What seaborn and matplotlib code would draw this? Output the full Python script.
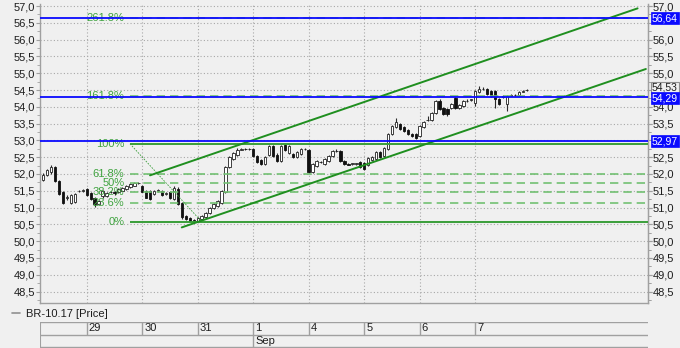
import numpy as np
import pandas as pd
import matplotlib
matplotlib.use("Agg")
import matplotlib.pyplot as plt
import matplotlib.transforms as mtransforms
from matplotlib.lines import Line2D
from matplotlib.ticker import MultipleLocator, FixedLocator, FuncFormatter
import seaborn as sns

# ---------------- data ----------------
day_labels = ["29", "30", "31", "1", "4", "5", "6", "7"]
month_label = "Sep"
month_starts_at = "1"
bars_per_day = 14
first_bar = -11          # hourly bars of the 28th shown before the 29th
price_ticks = [48.5, 49.0, 49.5, 50.0, 50.5, 51.0, 51.5, 52.0, 52.5, 53.0,
               53.5, 54.0, 54.5, 55.0, 55.5, 56.0, 56.5, 57.0]

opens = [51.82, 51.98, 52.05, 52.20, 51.80, 51.45, 51.28, 51.15, 51.18, 51.48, 51.50,
         51.55, 51.42, 51.30, 51.12, 51.34, 51.35, 51.45, 51.47, 51.45, 51.50, 51.55, 51.60, 51.65, 51.73,
         51.64, 51.50, 51.48, 51.40, 51.50, 51.50, 51.40, 51.45, 51.25, 51.55, 51.15, 50.75, 50.68, 50.62,
         50.60, 50.65, 50.72, 50.85, 51.00, 51.05, 51.15, 51.45, 52.20, 52.45, 52.58, 52.72, 52.74, 52.74,
         52.75, 52.55, 52.42, 52.30, 52.58, 52.82, 52.58, 52.40, 52.85, 52.62, 52.60, 52.50, 52.60, 52.74,
         52.70, 52.05, 52.25, 52.36, 52.30, 52.40, 52.55, 52.68, 52.68, 52.40, 52.30, 52.30, 52.30, 52.36,
         52.32, 52.28, 52.42, 52.45, 52.65, 52.55, 52.73, 53.18, 53.40, 53.48, 53.40, 53.32, 53.20, 53.18,
         53.13, 53.40, 53.60, 53.60, 53.83, 54.17, 53.97, 53.92, 53.97, 54.27, 53.97, 54.02, 54.17, 54.20,
         54.12, 54.45, 54.52, 54.52, 54.47, 54.47, 54.22, 54.28, 54.07, 54.33, 54.35, 54.35, 54.45, 54.49]
highs = [52.02, 52.16, 52.28, 52.23, 51.83, 51.50, 51.36, 51.40, 51.42, 51.53, 51.55,
         51.58, 51.45, 51.33, 51.24, 51.52, 51.47, 51.50, 51.50, 51.58, 51.61, 51.68, 51.72, 51.77, 51.77,
         51.67, 51.53, 51.52, 51.53, 51.55, 51.53, 51.45, 51.48, 51.65, 51.60, 51.18, 50.78, 50.71, 50.65,
         50.73, 50.78, 50.88, 51.03, 51.13, 51.23, 51.53, 52.25, 52.53, 52.66, 52.77, 52.77, 52.77, 52.76,
         52.78, 52.58, 52.45, 52.55, 52.85, 52.86, 52.62, 52.85, 52.90, 52.85, 52.63, 52.68, 52.77, 52.77,
         52.74, 52.33, 52.43, 52.39, 52.48, 52.58, 52.71, 52.73, 52.71, 52.43, 52.33, 52.34, 52.34, 52.39,
         52.35, 52.51, 52.55, 52.68, 52.68, 52.81, 53.21, 53.45, 53.68, 53.52, 53.44, 53.35, 53.23, 53.21,
         53.46, 53.58, 53.72, 53.86, 54.20, 54.22, 54.00, 53.95, 54.10, 54.30, 54.08, 54.20, 54.22, 54.24,
         54.50, 54.62, 54.60, 54.55, 54.50, 54.50, 54.25, 54.35, 54.35, 54.37, 54.38, 54.48, 54.49, 54.52]
lows = [51.78, 51.95, 52.00, 51.75, 51.38, 51.10, 51.24, 51.12, 51.14, 51.45, 51.47,
        51.35, 51.24, 51.02, 51.08, 51.30, 51.32, 51.43, 51.38, 51.42, 51.48, 51.52, 51.58, 51.63, 51.70,
        51.45, 51.28, 51.22, 51.37, 51.47, 51.35, 51.37, 51.27, 51.22, 51.07, 50.65, 50.62, 50.57, 50.55,
        50.57, 50.62, 50.70, 50.82, 50.97, 51.02, 51.12, 51.42, 52.17, 52.42, 52.55, 52.70, 52.71, 52.72,
        52.52, 52.32, 52.27, 52.27, 52.55, 52.52, 52.37, 52.37, 52.67, 52.59, 52.49, 52.47, 52.57, 52.72,
        52.02, 52.02, 52.22, 52.34, 52.27, 52.37, 52.52, 52.65, 52.37, 52.27, 52.26, 52.28, 52.28, 52.19,
        52.12, 52.25, 52.39, 52.42, 52.49, 52.52, 52.70, 53.15, 53.37, 53.30, 53.25, 53.15, 53.09, 53.05,
        53.10, 53.37, 53.57, 53.57, 53.80, 53.89, 53.75, 53.72, 53.94, 53.94, 53.94, 53.99, 54.15, 54.18,
        54.02, 54.42, 54.49, 54.34, 54.29, 53.97, 54.04, 54.25, 53.87, 54.31, 54.33, 54.32, 54.43, 54.48]
closes = [51.98, 52.12, 52.20, 51.80, 51.40, 51.15, 51.32, 51.38, 51.40, 51.50, 51.52,
          51.38, 51.27, 51.10, 51.20, 51.48, 51.44, 51.47, 51.42, 51.55, 51.58, 51.65, 51.69, 51.73, 51.74,
          51.47, 51.30, 51.25, 51.50, 51.52, 51.38, 51.42, 51.30, 51.58, 51.10, 50.72, 50.65, 50.60, 50.58,
          50.70, 50.75, 50.85, 51.00, 51.10, 51.20, 51.50, 52.22, 52.50, 52.62, 52.72, 52.74, 52.73, 52.74,
          52.55, 52.35, 52.30, 52.52, 52.82, 52.55, 52.40, 52.82, 52.70, 52.82, 52.52, 52.65, 52.74, 52.75,
          52.05, 52.30, 52.40, 52.37, 52.45, 52.55, 52.68, 52.68, 52.40, 52.30, 52.28, 52.32, 52.32, 52.22,
          52.15, 52.48, 52.52, 52.65, 52.52, 52.78, 53.18, 53.42, 53.55, 53.33, 53.28, 53.18, 53.12, 53.08,
          53.43, 53.55, 53.62, 53.83, 54.17, 53.92, 53.78, 53.78, 54.07, 53.97, 54.05, 54.17, 54.18, 54.22,
          54.47, 54.52, 54.52, 54.37, 54.32, 54.22, 54.07, 54.32, 54.32, 54.34, 54.36, 54.45, 54.46, 54.50]

fib_low = 50.58
fib_high = 52.90
fib_ratios = [0.0, 0.236, 0.382, 0.5, 0.618, 1.0, 1.618, 2.618]
fib_texts = ["0%", "23.6%", "38.2%", "50%", "61.8%", "100%", "161.8%", "261.8%"]
fib_anchor_bars = [10.9, 29.0]     # trend line of the Fibonacci tool: high -> low

channel_upper_x = [15.96, 138.97]
channel_upper_y = [51.96, 56.93]
channel_lower_x = [23.96, 141.06]
channel_lower_y = [50.41, 55.125]

blue_levels = [56.64, 54.29, 52.97]
last_price = 54.53
series_name = "BR-10.17 [Price]"

# ---------------- style ----------------
BG = "#f0f0f0"
GRID = "#a8a8a8"
FRAME = "#a0a0a0"
TXT = "#1e1e1e"
BLUE = "#0a0aff"
CH_GREEN = "#1f8f1f"
FIB_SOLID = "#3a9e3a"
FIB_DASH = "#72c072"
FIB_TXT = "#3fa33f"

sns.set_style("white")
plt.rcParams["font.family"] = ["Liberation Sans", "DejaVu Sans"]
plt.rcParams["font.size"] = 8

W, H = 680, 348
fig = plt.figure(figsize=(W / 100, H / 100), dpi=100, facecolor=BG)
ax = fig.add_axes([40 / W, 1 - 303 / H, 608 / W, 299 / H])
ax.set_facecolor(BG)

n = len(closes)
xs = np.arange(first_bar, first_bar + n)
df = pd.DataFrame({"x": xs, "o": opens, "h": highs, "l": lows, "c": closes})
day_starts = [i * bars_per_day for i in range(len(day_labels))]

xmin, xmax = -11.8, 141.6
ax.set_xlim(xmin, xmax)
ax.set_ylim(48.16, 57.06)

# tick values hidden behind the right-hand price tags in the original
tag_values = blue_levels + [last_price]
right_ticks = [t for t in price_ticks if not any(abs(t - v) < 0.2 for v in tag_values)]


def fmt(v, p):
    return f"{v:.1f}".replace(".", ",")


# grid
ax.yaxis.set_major_locator(FixedLocator(price_ticks))
ax.yaxis.set_minor_locator(MultipleLocator(0.25))
ax.set_xticks(day_starts)
ax.set_xticklabels([])
ax.grid(True, which="major", color=GRID, linestyle=(0, (1, 2)), linewidth=0.8)
ax.set_axisbelow(True)
ax.tick_params(axis="x", length=0)
ax.tick_params(axis="y", which="both", left=True, right=True, labelleft=True,
               labelright=False, direction="out", color=FRAME, labelcolor=TXT,
               labelsize=8, pad=0.5)
ax.tick_params(axis="y", which="major", length=3)
ax.tick_params(axis="y", which="minor", length=2)
ax.yaxis.set_major_formatter(FuncFormatter(fmt))
for side in ["left", "right", "bottom"]:
    ax.spines[side].set_color(FRAME)
    ax.spines[side].set_linewidth(1)
ax.spines["top"].set_visible(False)

# right-hand axis labels (same scale)
rax = ax.secondary_yaxis("right")
rax.yaxis.set_major_locator(FixedLocator(right_ticks))
rax.yaxis.set_minor_locator(MultipleLocator(0.25))
rax.yaxis.set_major_formatter(FuncFormatter(fmt))
rax.tick_params(axis="y", which="both", direction="out", color=FRAME, labelcolor=TXT,
                labelsize=8, pad=0.5)
rax.tick_params(axis="y", which="major", length=3)
rax.tick_params(axis="y", which="minor", length=2)
rax.spines["right"].set_color(FRAME)

# candles
ax.vlines(df["x"], df["l"], df["h"], color="#2a2a2a", linewidth=0.8, zorder=3)
up = df["c"] >= df["o"]
body_lo = np.minimum(df["o"], df["c"])
body_h = np.abs(df["c"] - df["o"])
ax.bar(df["x"][up], body_h[up], bottom=body_lo[up], width=0.62, color="white",
       edgecolor="#222222", linewidth=0.6, zorder=4)
ax.bar(df["x"][~up], body_h[~up], bottom=body_lo[~up], width=0.62, color="#111111",
       edgecolor="#111111", linewidth=0.6, zorder=4)

# Fibonacci tool
span = fib_high - fib_low
for r, t in zip(fib_ratios, fib_texts):
    lvl = fib_low + r * span
    if r in (0.0, 1.0):
        ax.hlines(lvl, fib_anchor_bars[0], xmax, color=FIB_SOLID, linewidth=1.4, zorder=5)
    else:
        ax.hlines(lvl, fib_anchor_bars[0], xmax, color=FIB_DASH, linewidth=1.2,
                  linestyles=(0, (5, 3)), zorder=5)
    ax.text(fib_anchor_bars[0] - 1.4, lvl, t, ha="right", va="center", color=FIB_TXT,
            fontsize=8, zorder=6)
ax.plot(fib_anchor_bars, [fib_high, fib_low], color=FIB_SOLID, linewidth=0.6,
        linestyle=(0, (2, 1.5)), zorder=5)

# channel
sns.lineplot(x=channel_upper_x, y=channel_upper_y, ax=ax, color=CH_GREEN, linewidth=1.4,
             estimator=None, sort=False, zorder=6)
sns.lineplot(x=channel_lower_x, y=channel_lower_y, ax=ax, color=CH_GREEN, linewidth=1.4,
             estimator=None, sort=False, zorder=6)

# blue price lines
for v in blue_levels:
    ax.axhline(v, color=BLUE, linewidth=1.3, zorder=6)

# right-side price tags
trans = mtransforms.blended_transform_factory(ax.transAxes, ax.transData)
ax.text(1.006, last_price + 0.04, f"{last_price:.2f}".replace(".", ","), transform=trans,
        ha="left", va="center", color=TXT, fontsize=7.5, clip_on=False, zorder=7,
        bbox=dict(boxstyle="square,pad=0.1", fc=BG, ec="#909090", lw=0.8))
for v in blue_levels:
    ax.text(1.006, v - (0.03 if v == 54.29 else 0), f"{v:.2f}".replace(".", ","),
            transform=trans, ha="left", va="center", color="white", fontsize=7.5,
            clip_on=False, zorder=8,
            bbox=dict(boxstyle="square,pad=0.1", fc=BLUE, ec=BLUE, lw=0.5))

# legend line
fig.add_artist(Line2D([12 / W, 20 / W], [1 - 313 / H, 1 - 313 / H], color="#909090", lw=1.2))
fig.text(26 / W, 1 - 314 / H, series_name, ha="left", va="center", color=TXT, fontsize=8)

# date table
tax = fig.add_axes([40 / W, 1 - 347.5 / H, 608 / W, 25.5 / H])
tax.set_xlim(xmin, xmax)
tax.set_ylim(0, 2)
tax.axis("off")
tax.patch.set_alpha(0)
for yy in (2, 1, 0.02):
    tax.axhline(yy, color=FRAME, lw=1)
tax.axvline(xmin, color=FRAME, lw=1.5)
for xs0, lab in zip(day_starts, day_labels):
    tax.vlines(xs0, 1, 2, color=FRAME, lw=1)
    tax.text(xs0 + 0.5, 1.5, lab, ha="left", va="center", color=TXT, fontsize=8)
sep_x = day_starts[day_labels.index(month_starts_at)]
tax.vlines(sep_x, 0, 1, color=FRAME, lw=1)
tax.text(sep_x + 0.5, 0.5, month_label, ha="left", va="center", color=TXT, fontsize=8)

fig.savefig("out.png", dpi=100, facecolor=BG)
